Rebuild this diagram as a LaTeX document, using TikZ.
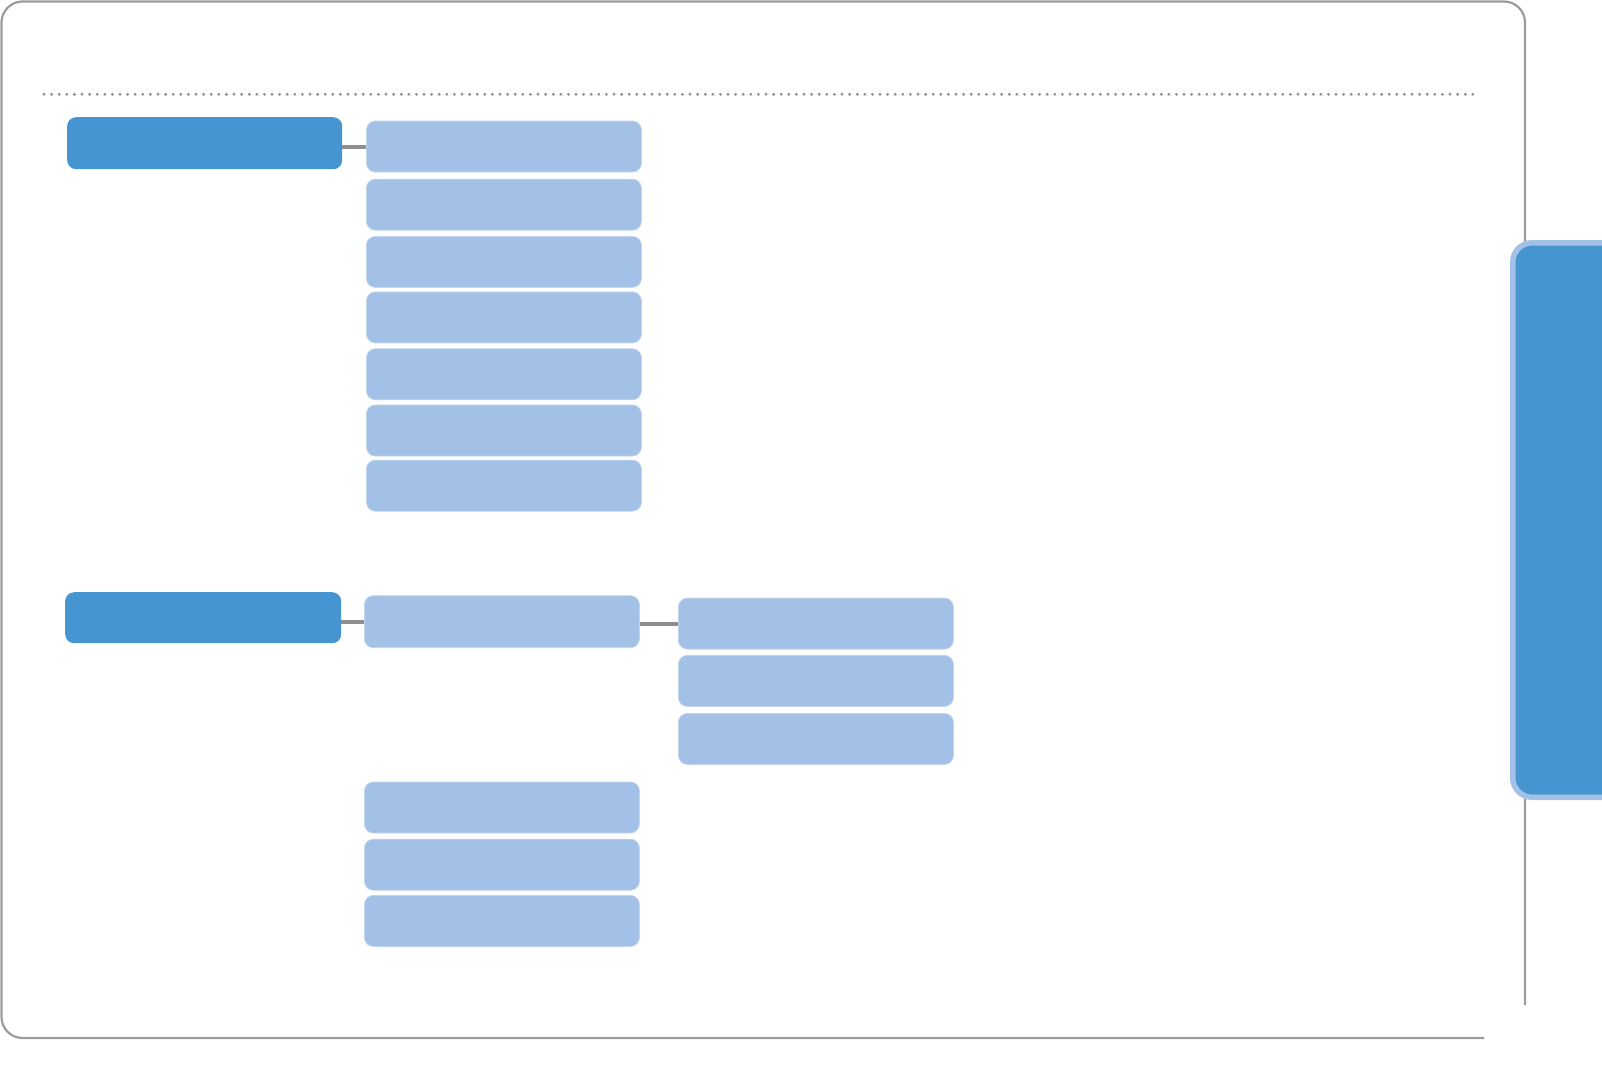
\documentclass[tikz,border=0pt]{standalone}
\definecolor{darkb}{RGB}{70,149,208}
\definecolor{lightb}{RGB}{163,193,230}
\definecolor{framegray}{RGB}{155,156,160}
\definecolor{dotgray}{RGB}{145,146,150}
\definecolor{linkgray}{RGB}{142,142,142}
\begin{document}
\begin{tikzpicture}[x=1pt,y=-1pt,
  mainbox/.style={fill=darkb,rounded corners=9pt,inner sep=0pt,anchor=north west,minimum width=275pt,minimum height=52pt},
  subbox/.style={fill=lightb,draw=lightb!70!white,line width=0.8pt,rounded corners=9pt,inner sep=0pt,anchor=north west,minimum width=275pt,minimum height=51pt},
  link/.style={draw=linkgray,line width=4pt}]
\useasboundingbox (0,0) rectangle (1602,1074);
% frame
\draw[framegray,line width=2.2pt,rounded corners=21pt] (1484,1038) -- (1.5,1038)
  -- (1.5,1.5) -- (1525,1.5) -- (1525,1005);
% dotted rule
\draw[dotgray,line width=3.2pt,line cap=round,dash pattern=on 0pt off 7.6pt] (44,94.3) -- (1476,94.3);
% right tab
\begin{scope}
\clip (0,0) rectangle (1602,1074);
\fill[lightb,rounded corners=22pt] (1510,240) rectangle (1640,800);
\fill[darkb,rounded corners=17pt] (1515.5,245.5) rectangle (1640,794.5);
\end{scope}
% section 1
\node[mainbox] (d1) at (67,117) {};
\node[subbox] (a1) at (366,120.6) {};
\node[subbox] (a2) at (366,178.8) {};
\node[subbox] (a3) at (366,236) {};
\node[subbox] (a4) at (366,291.5) {};
\node[subbox] (a5) at (366,348.4) {};
\node[subbox] (a6) at (366,404.6) {};
\node[subbox] (a7) at (366,459.8) {};
\draw[link] (a1.west -| d1.east) -- (a1.west);
% section 2
\node[mainbox,minimum width=276pt,minimum height=51pt] (d2) at (65,592) {};
\node[subbox,minimum height=52pt] (m1) at (364,595.3) {};
\node[subbox] (c1) at (678,597.7) {};
\node[subbox] (c2) at (678,655) {};
\node[subbox] (c3) at (678,713) {};
\node[subbox] (b1) at (364,781.6) {};
\node[subbox] (b2) at (364,838.8) {};
\node[subbox] (b3) at (364,895) {};
\draw[link] (m1.west -| d2.east) -- (m1.west);
\draw[link] (c1.west -| m1.east) -- (c1.west);
\end{tikzpicture}
\end{document}
